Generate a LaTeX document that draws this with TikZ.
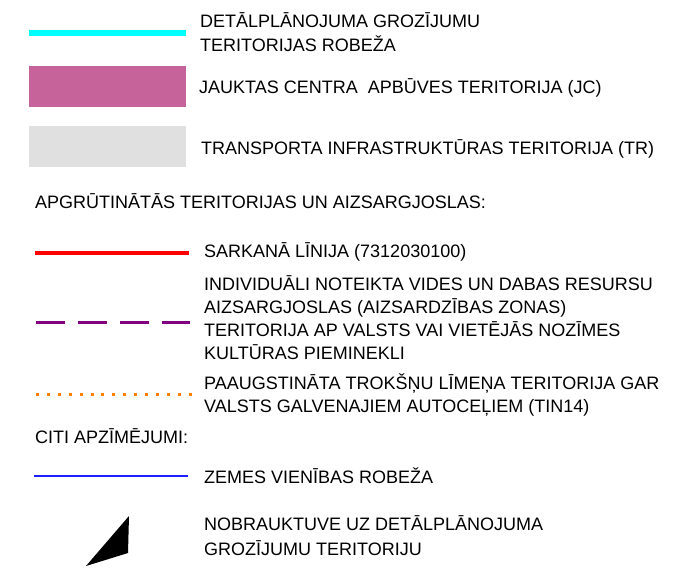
\documentclass[tikz,border=0pt]{standalone}
\usepackage{fontspec}
\setmainfont{Liberation Sans}
\definecolor{jcmag}{RGB}{198,99,154}
\definecolor{trgray}{RGB}{224,224,224}
\definecolor{purp}{RGB}{128,0,128}
\definecolor{orng}{RGB}{255,128,0}
\definecolor{cyanl}{RGB}{0,255,255}
\definecolor{redl}{RGB}{255,0,0}
\definecolor{bluel}{RGB}{30,30,255}
\begin{document}
\begin{tikzpicture}[x=1pt,y=-1pt,
  lbl/.style={anchor=base west,inner sep=0pt,font=\fontsize{18}{21}\selectfont},
]
\useasboundingbox (0,0) rectangle (673,573);
\fill[white] (0,0) rectangle (673,573);
% cyan
\draw[cyanl,line width=6pt] (29,33) -- (186,33);
\node[lbl] (t1) at (200,27) {DETĀLPLĀNOJUMA GROZĪJUMU};
\node[lbl] (t1b) at (200,51) {TERITORIJAS ROBEŽA};
% magenta
\fill[jcmag] (29,66) rectangle (186,107);
\node[lbl] (t2) at (199,93) {JAUKTAS CENTRA\ \ APBŪVES TERITORIJA (JC)};
% gray
\fill[trgray] (29,126) rectangle (186,167);
\node[lbl] (t3) at (201,154) {TRANSPORTA INFRASTRUKTŪRAS TERITORIJA (TR)};
\node[lbl] (h1) at (35,208) {APGRŪTINĀTĀS TERITORIJAS UN AIZSARGJOSLAS:};
% red
\draw[redl,line width=3.5pt] (35,253) -- (189,253);
\node[lbl] (t4) at (204,257) {SARKANĀ LĪNIJA (7312030100)};
% purple dashed
\draw[purp,line width=3pt,dash pattern=on 29pt off 13pt] (36,322) -- (190,322);
\node[lbl] (t5a) at (204,290) {INDIVIDUĀLI NOTEIKTA VIDES UN DABAS RESURSU};
\node[lbl] (t5b) at (204,313) {AIZSARGJOSLAS (AIZSARDZĪBAS ZONAS)};
\node[lbl] (t5c) at (204,336) {TERITORIJA AP VALSTS VAI VIETĒJĀS NOZĪMES};
\node[lbl] (t5d) at (204,359) {KULTŪRAS PIEMINEKLI};
% orange dotted
\draw[orng,line width=3pt,dash pattern=on 3pt off 7.9pt] (36,394.5) -- (192,394.5);
\node[lbl] (t6a) at (204,389) {PAAUGSTINĀTA TROKŠŅU LĪMEŅA TERITORIJA GAR};
\node[lbl] (t6b) at (204,412) {VALSTS GALVENAJIEM AUTOCEĻIEM (TIN14)};
\node[lbl] (h2) at (35,443) {CITI APZĪMĒJUMI:};
% blue
\draw[bluel,line width=1.2pt] (34,476) -- (188,476);
\node[lbl] (t7) at (204,483) {ZEMES VIENĪBAS ROBEŽA};
% triangle
\fill[black] (86,566) -- (129,516) -- (128,553) -- cycle;
\node[lbl] (t8a) at (204,530) {NOBRAUKTUVE UZ DETĀLPLĀNOJUMA};
\node[lbl] (t8b) at (204,555) {GROZĪJUMU TERITORIJU};
\end{tikzpicture}
\end{document}
